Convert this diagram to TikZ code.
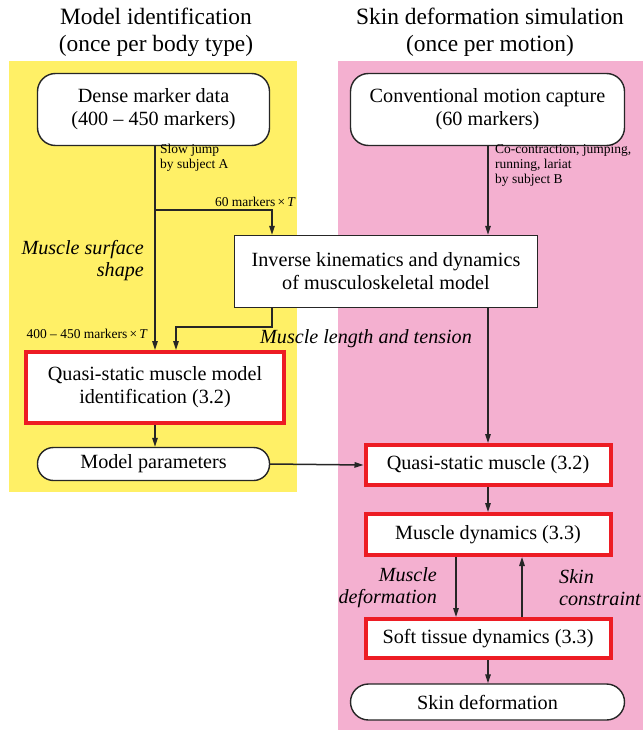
\documentclass[tikz,border=0pt]{standalone}
\usepackage{fontspec}
\setmainfont{Liberation Serif}
\usetikzlibrary{arrows.meta,calc}
\definecolor{bgyellow}{RGB}{255,240,102}
\definecolor{bgpink}{RGB}{244,176,208}
\definecolor{boxred}{RGB}{237,28,36}
\begin{document}
\begin{tikzpicture}[x=1pt,y=-1pt,
  arr/.style={line width=1.5pt,draw=black!85,-{Triangle[length=9pt,width=5.5pt]}},
  pill/.style={draw=black!85,line width=1.4pt,fill=white,rounded corners=18pt,align=center,inner sep=0pt,font=\fontsize{20.2}{23}\selectfont},
  plain/.style={draw=black!85,line width=1.4pt,fill=white,align=center,inner sep=0pt,font=\fontsize{20.2}{23}\selectfont},
  redbox/.style={draw=boxred,line width=4pt,fill=white,align=center,inner sep=0pt,font=\fontsize{20.2}{23}\selectfont},
  title/.style={align=center,font=\fontsize{23.4}{27}\selectfont},
  small/.style={align=left,font=\fontsize{13.5}{15}\selectfont,inner sep=0pt},
  itl/.style={font=\fontsize{20.1}{22}\selectfont\itshape,inner sep=0pt}
]
\useasboundingbox (0,0) rectangle (643,730);
\fill[bgyellow] (9,61) rectangle (297,492);
\fill[bgpink] (338,61) rectangle (643,730);

\node[title] (t1) at (156,32) {Model identification\\(once per body type)};
\node[title] (t2) at (490,32) {Skin deformation simulation\\(once per motion)};

\node[pill,minimum width=232pt,minimum height=72pt] (dense) at (153.5,109.5) {Dense marker data\\(400 -- 450 markers)};
\node[pill,minimum width=274pt,minimum height=72pt] (conv) at (487.5,109.5) {Conventional motion capture\\(60 markers)};
\node[plain,minimum width=303pt,minimum height=72pt] (ik) at (386,271.5) {Inverse kinematics and dynamics\\of musculoskeletal model};
\node[redbox,minimum width=258pt,minimum height=71pt] (qid) at (155,387.5) {Quasi-static muscle model\\identification (3.2)};
\node[pill,rounded corners=16pt,minimum width=232pt,minimum height=33pt] (mp) at (153.5,464) {Model parameters};
\node[redbox,minimum width=245pt,minimum height=40pt] (qsm) at (488,465) {Quasi-static muscle (3.2)};
\node[redbox,minimum width=245pt,minimum height=41pt] (md) at (488,534.5) {Muscle dynamics (3.3)};
\node[redbox,minimum width=245pt,minimum height=39pt] (st) at (488,638.5) {Soft tissue dynamics (3.3)};
\node[pill,minimum width=274pt,minimum height=36pt] (sd) at (487.5,702) {Skin deformation};

% left column
\draw[arr] ([xshift=1.5pt]dense.south) -- ([xshift=1.5pt]dense.south |- qid.north);
\coordinate (br) at (155,210);
\draw[arr] (br) -| ([xshift=-114pt]ik.north);
\draw[arr] ([xshift=-114pt]ik.south) -- ++(0,19) -| ([xshift=21pt]qid.north);
\draw[arr] (qid.south) -- (qid.south |- mp.north);
\draw[arr] (mp.east) -- (qsm.west);

% right column
\draw[arr] ([xshift=0.5pt]conv.south) -- ([xshift=0.5pt]conv.south |- ik.north);
\draw[arr] (ik.south -| qsm.north) -- (qsm.north);
\draw[arr] (qsm.south) -- (md.north);
\draw[arr] ([xshift=-32pt]md.south) -- ([xshift=-32pt]st.north);
\draw[arr] ([xshift=34pt]st.north) -- ([xshift=34pt]md.south);
\draw[arr] (st.south) -- (st.south |- sd.north);

% labels
\node[small,anchor=north west] (l1) at (160,144) {Slow jump\\by subject A};
\node[small,anchor=base east] (l2) at (296,206) {60 markers\,\texttimes\,\textit{T}};
\node[small,anchor=base east] (l3) at (148,338) {400 -- 450 markers\,\texttimes\,\textit{T}};
\node[small,anchor=north west] (l4) at (495,144) {Co-contraction, jumping,\\running, lariat\\by subject B};
\node[itl,align=right,anchor=east] (l5) at (144,261) {Muscle surface\\shape};
\node[itl] (l6) at (366,339) {Muscle length and tension};
\node[itl,align=right,anchor=east] (l7) at (437,588) {Muscle\\deformation};
\node[itl,align=left,anchor=west] (l8) at (559,588) {Skin\\constraint};
\end{tikzpicture}
\end{document}
